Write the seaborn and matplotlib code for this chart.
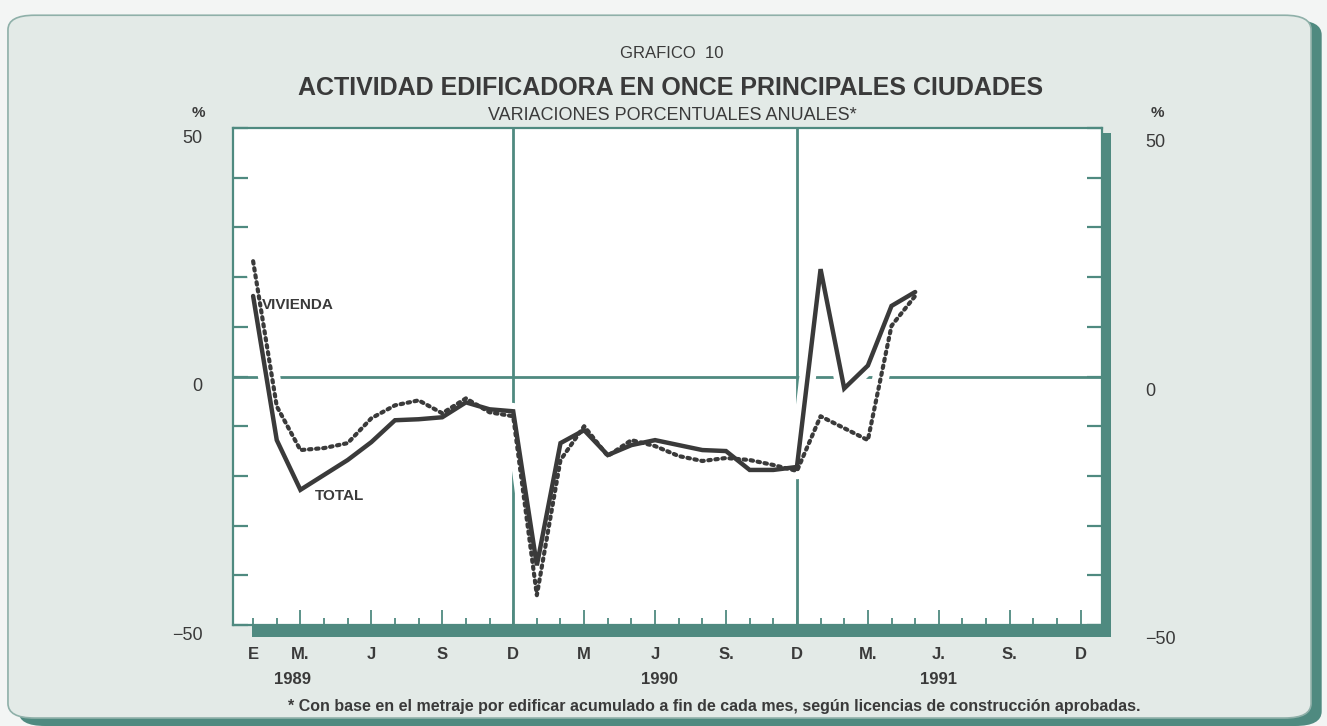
"""Grafico 10: actividad edificadora en once principales ciudades."""

import matplotlib
matplotlib.use("Agg")
import matplotlib.pyplot as plt
import seaborn as sns
from matplotlib import font_manager
from matplotlib.patches import FancyBboxPatch, Rectangle
from matplotlib.transforms import ScaledTranslation

# ---- data (variaciones porcentuales anuales, ene 1989 - may 1991) ----
months = list(range(29))  # 0 = enero 1989
total = [16.2, -12.8, -22.8, -19.8, -16.8, -13.2, -8.8, -8.6, -8.2, -5.2, -6.6, -7.0,
         -38.0, -13.4, -10.8, -15.8, -13.8, -12.8, -13.8, -14.8, -15.0, -18.8, -18.8, -18.2,
         21.6, -2.4, 2.2, 14.2, 17.0]
vivienda = [23.2, -6.0, -14.8, -14.4, -13.4, -8.4, -5.8, -4.8, -7.4, -4.4, -7.2, -8.0,
            -44.0, -16.8, -10.0, -16.0, -12.8, -14.0, -16.0, -17.0, -16.4, -16.8, -17.8, -19.0,
            -8.0, -10.4, -12.8, 10.2, 16.2]

month_pos = [0, 2, 5, 8, 11, 14, 17, 20, 23, 26, 29, 32, 35]
month_labels = ["E", "M.", "J", "S", "D", "M", "J", "S.", "D", "M.", "J.", "S.", "D"]
year_pos = [1.65, 17.2, 29.0]
year_labels = ["1989", "1990", "1991"]
y_ticks = list(range(-50, 51, 10))
y_labels = {-50: "\u221250", 0: "0", 50: "50"}

TEAL = "#4f8a80"
INK = "#3a3a3a"
PANEL = "#e3eae7"

sns.set_theme(style="white")
installed = {f.name for f in font_manager.fontManager.ttflist}
narrow = "Liberation Sans Narrow" if "Liberation Sans Narrow" in installed else "Liberation Sans"
plt.rcParams["font.family"] = [narrow, "DejaVu Sans"]

fig = plt.figure(figsize=(13.27, 7.26), dpi=100)
fig.patch.set_facecolor("#f3f5f4")

# rounded panel with shadow
fig.patches.append(FancyBboxPatch((0.014, 0.0), 0.982, 0.972, boxstyle="round,pad=0,rounding_size=0.02",
                                  transform=fig.transFigure, facecolor=TEAL, edgecolor="none", zorder=-10))
fig.patches.append(FancyBboxPatch((0.006, 0.011), 0.982, 0.968, boxstyle="round,pad=0,rounding_size=0.02",
                                  transform=fig.transFigure, facecolor=PANEL, edgecolor="#8fb0a9",
                                  linewidth=1.2, zorder=-9))

ax = fig.add_axes([0.1756, 0.1391, 0.6548, 0.6846])
ax.set_facecolor("white")
ax.set_xlim(-0.85, 35.9)
ax.set_ylim(-50, 50)

# reference lines
ax.axhline(0, color=TEAL, lw=2, zorder=1)
for m in (11, 23):
    ax.axvline(m, color=TEAL, lw=2, zorder=1)

# white halos break the grid lines where the series cross them
for ser in (total, vivienda):
    sns.lineplot(x=months, y=ser, ax=ax, color="white", lw=12, zorder=3,
                 solid_capstyle="round", solid_joinstyle="round")

sns.lineplot(x=months, y=vivienda, ax=ax, color=INK, lw=3, linestyle=(0, (0.6, 1.1)),
             dash_capstyle="round", zorder=4)
sns.lineplot(x=months, y=total, ax=ax, color=INK, lw=3.2, zorder=5,
             solid_joinstyle="miter")

ax.text(0.38, 14.4, "VIVIENDA", fontsize=11, fontweight="bold", color=INK, va="center", zorder=6)
ax.text(2.6, -24, "TOTAL", fontsize=11, fontweight="bold", color=INK, va="center", zorder=6)

# spines and ticks
for side in ("left", "right", "top", "bottom"):
    ax.spines[side].set_visible(True)
    ax.spines[side].set_color(TEAL)
    ax.spines[side].set_linewidth(1.6)

ax.set_yticks(y_ticks)
ax.set_yticklabels([y_labels.get(v, "") for v in y_ticks])
ax.tick_params(axis="y", direction="in", length=11, width=1.6, color=TEAL, left=True, right=True,
               labelleft=True, labelright=True, labelsize=13, labelcolor=INK, pad=22)
# scanned original: labels sit a little below their ticks, right column further out
for tick in ax.yaxis.get_major_ticks():
    tick.label1.set_transform(tick.label1.get_transform()
                              + ScaledTranslation(0, -6 / 72, fig.dpi_scale_trans))
    tick.label2.set_transform(tick.label2.get_transform()
                              + ScaledTranslation(9 / 72, -9 / 72, fig.dpi_scale_trans))

ax.set_xticks([2, 5, 8, 11, 14, 17, 20, 23, 26, 29, 32, 35])
ax.set_xticks([m for m in range(36) if m % 3 != 2], minor=True)
ax.tick_params(axis="x", which="major", direction="in", length=11, width=1.3, color=TEAL,
               bottom=True, labelbottom=False)
ax.tick_params(axis="x", which="minor", direction="in", length=5, width=1.3, color=TEAL, bottom=True)
ax.set_xlabel("")
ax.set_ylabel("")
ax.grid(False)

# 3D shadow under the plot frame
ax.add_patch(Rectangle((0.022, -0.024), 0.988, 0.024, transform=ax.transAxes, facecolor=TEAL,
                       edgecolor="none", clip_on=False, zorder=6))
ax.add_patch(Rectangle((1.0, -0.024), 0.010, 1.014, transform=ax.transAxes, facecolor=TEAL,
                       edgecolor="none", clip_on=False, zorder=6))

xt = ax.get_xaxis_transform()
for pos, lab in zip(month_pos, month_labels):
    ax.text(pos, -0.06, lab, transform=xt, ha="center", va="center", fontsize=12,
            fontweight="bold", color=INK)
for pos, lab in zip(year_pos, year_labels):
    ax.text(pos, -0.11, lab, transform=xt, ha="center", va="center", fontsize=12,
            fontweight="bold", color=INK)

# titles and notes
fig.text(0.5065, 1 - 53 / 726, "GRAFICO  10", ha="center", va="center", fontsize=12, color=INK)
fig.text(0.505, 1 - 88 / 726, "ACTIVIDAD EDIFICADORA EN ONCE PRINCIPALES CIUDADES", ha="center",
         va="center", fontsize=18, fontweight="bold", color=INK)
fig.text(0.5065, 1 - 116 / 726, "VARIACIONES PORCENTUALES ANUALES*", ha="center", va="center",
         fontsize=13, color=INK)
fig.text(198 / 1327, 1 - 113 / 726, "%", ha="center", va="center", fontsize=11, fontweight="bold", color=INK)
fig.text(1157 / 1327, 1 - 113 / 726, "%", ha="center", va="center", fontsize=11, fontweight="bold", color=INK)
fig.text(714 / 1327, 1 - 707 / 726,
         "* Con base en el metraje por edificar acumulado a fin de cada mes, seg\u00fan licencias de "
         "construcci\u00f3n aprobadas.",
         ha="center", va="center", fontsize=11.5, fontweight="bold", color=INK)

fig.savefig("out.png", dpi=100)
